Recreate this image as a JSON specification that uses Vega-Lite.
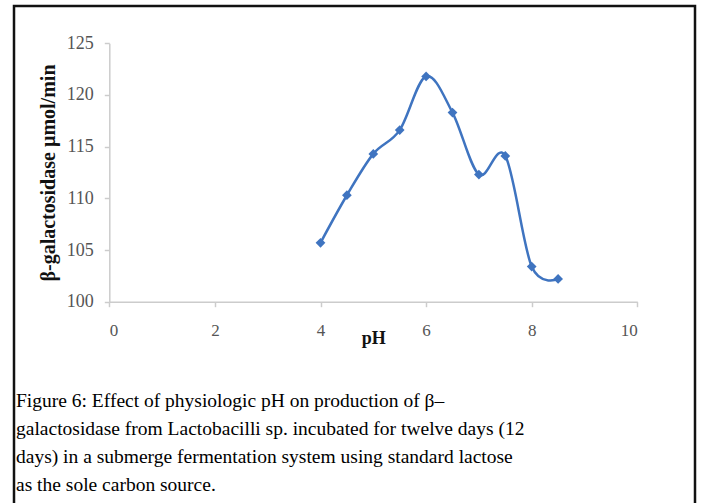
{
  "$schema": "https://vega.github.io/schema/vega-lite/v6.json",
  "width": 681,
  "height": 520,
  "autosize": {"type": "none"},
  "padding": {"left": 14, "top": 6, "right": 8, "bottom": 0},
  "background": "white",
  "config": {"view": {"stroke": "#111111", "strokeWidth": 2.5}},
  "title": {
    "text": [
      "Figure 6: Effect of physiologic pH on production of β–",
      "galactosidase from Lactobacilli sp. incubated for twelve days (12",
      "days) in a submerge fermentation system using standard lactose",
      "as the sole carbon source."
    ],
    "orient": "bottom",
    "anchor": "start",
    "frame": "group",
    "font": "Liberation Serif, Times New Roman, serif",
    "fontSize": 19.5,
    "fontWeight": "normal",
    "color": "#000000",
    "lineHeight": 28,
    "baseline": "alphabetic",
    "offset": -119,
    "dx": 2
  },
  "data": {
    "values": [
      {"pH": 4, "activity": 105.7},
      {"pH": 4.5, "activity": 110.3},
      {"pH": 5, "activity": 114.3},
      {"pH": 5.5, "activity": 116.6},
      {"pH": 6, "activity": 121.8},
      {"pH": 6.5, "activity": 118.3},
      {"pH": 7, "activity": 112.3},
      {"pH": 7.5, "activity": 114.1},
      {"pH": 8, "activity": 103.4},
      {"pH": 8.5, "activity": 102.2}
    ]
  },
  "encoding": {
    "x": {
      "field": "pH",
      "type": "quantitative",
      "scale": {"domain": [0, 10], "range": [95.3, 623.3], "nice": false, "zero": false},
      "axis": {
        "values": [0, 2, 4, 6, 8, 10],
        "orient": "bottom",
        "offset": -224.3,
        "grid": false,
        "domainColor": "#cccccc",
        "domainWidth": 1.5,
        "tickColor": "#cccccc",
        "tickWidth": 1.5,
        "tickSize": 5,
        "labelFont": "Liberation Serif, Times New Roman, serif",
        "labelFontSize": 17,
        "labelColor": "#555555",
        "labelPadding": 16,
        "title": "pH",
        "titleFont": "Liberation Serif, Times New Roman, serif",
        "titleFontSize": 18,
        "titleFontWeight": "bold",
        "titleColor": "#111111",
        "titleY": 42,
        "titleBaseline": "alphabetic"
      }
    },
    "y": {
      "field": "activity",
      "type": "quantitative",
      "scale": {"domain": [100, 125], "range": [295.7, 37.3], "nice": false, "zero": false},
      "axis": {
        "values": [100, 105, 110, 115, 120, 125],
        "orient": "left",
        "offset": -95.3,
        "grid": false,
        "domainColor": "#cccccc",
        "domainWidth": 1.5,
        "tickColor": "#cccccc",
        "tickWidth": 1.5,
        "tickSize": 5,
        "labelFont": "Liberation Serif, Times New Roman, serif",
        "labelFontSize": 18,
        "labelColor": "#555555",
        "labelPadding": 11,
        "title": "β-galactosidase µmol/min",
        "titleFont": "Liberation Serif, Times New Roman, serif",
        "titleFontSize": 20,
        "titleFontWeight": "bold",
        "titleColor": "#111111",
        "titleX": -61,
        "titleBaseline": "middle"
      }
    }
  },
  "layer": [
    {
      "mark": {"type": "line", "interpolate": "cardinal", "color": "#3f74c0", "strokeWidth": 2.5}
    },
    {
      "mark": {"type": "point", "shape": "diamond", "filled": true, "color": "#3f74c0", "size": 95, "opacity": 1}
    }
  ]
}
